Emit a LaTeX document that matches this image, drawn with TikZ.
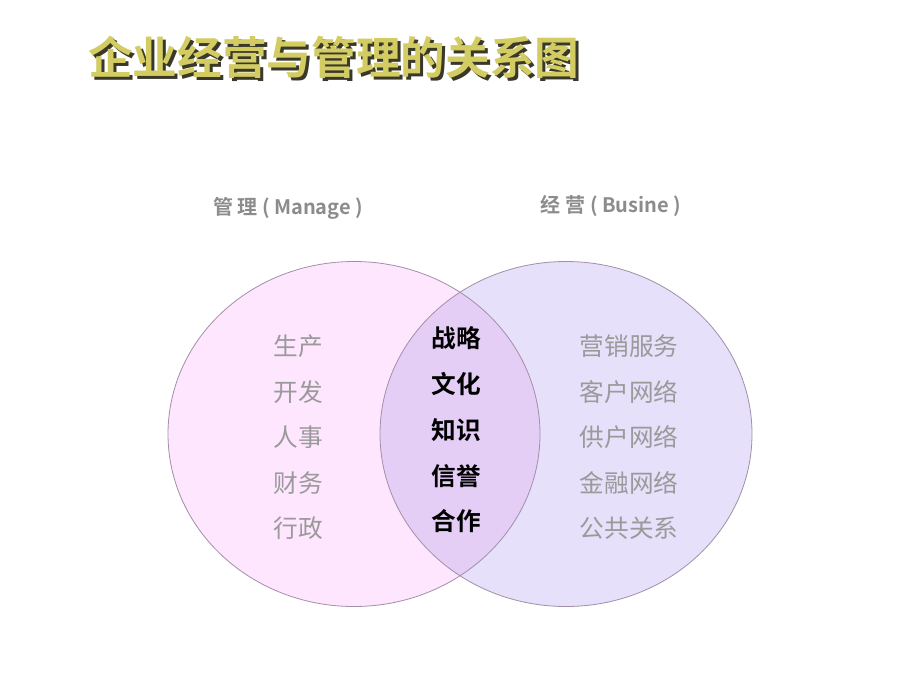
\documentclass[tikz,border=0pt]{standalone}
\usepackage{fontspec}
\newfontfamily\cjk{Noto Sans CJK SC}[BoldFont={Noto Sans CJK SC Bold}]
\definecolor{titlecol}{HTML}{D2CC62}
\definecolor{shadowcol}{HTML}{3A3828}
\definecolor{pinkfill}{HTML}{FFE6FF}
\definecolor{lavfill}{HTML}{E6E0FA}
\definecolor{lensfill}{HTML}{E4CEF6}
\definecolor{edgecol}{HTML}{A28FA8}
\definecolor{graytext}{HTML}{9A9A9A}
\definecolor{labeltext}{HTML}{8C8C8C}
\tikzset{
  sidetext/.style={font=\cjk\fontsize{18.5pt}{20pt}\selectfont, text=graytext, inner sep=0pt},
  midtext/.style={font=\cjk\bfseries\fontsize{18.5pt}{20pt}\selectfont, text=black, inner sep=0pt},
  headlabel/.style={font=\cjk\bfseries\fontsize{15pt}{17pt}\selectfont, text=labeltext, inner sep=0pt},
  titletext/.style={font=\cjk\bfseries\fontsize{33.5pt}{36pt}\selectfont, inner sep=0pt, anchor=west}
}
\begin{document}
\begin{tikzpicture}[x=0.75pt,y=-0.75pt]
\useasboundingbox (0,0) rectangle (920,690);
\fill[white] (0,0) rectangle (920,690);
% title with shadow
\node[titletext, text=shadowcol] (titleshadow) at (91,60) {企业经营与管理的关系图};
\node[titletext, text=titlecol] (title) at (88,57) {企业经营与管理的关系图};
% circles
\fill[pinkfill] (354,434) ellipse [x radius=186, y radius=172.5];
\fill[lavfill] (566,434) ellipse [x radius=186, y radius=172.5];
\begin{scope}
\clip (354,434) ellipse [x radius=186, y radius=172.5];
\fill[lensfill] (566,434) ellipse [x radius=186, y radius=172.5];
\end{scope}
\draw[edgecol, line width=0.6pt] (354,434) ellipse [x radius=186, y radius=172.5];
\draw[edgecol, line width=0.6pt] (566,434) ellipse [x radius=186, y radius=172.5];
% headers
\node[headlabel] (mlabel) at (288,208) {管 理 ( Manage )};
\node[headlabel] (blabel) at (611,206) {经 营 ( Busine )};
% left column
\node[sidetext] (l1) at (298,346) {生产};
\node[sidetext] (l2) at (298,392) {开发};
\node[sidetext] (l3) at (298,437) {人事};
\node[sidetext] (l4) at (298,483) {财务};
\node[sidetext] (l5) at (298,528) {行政};
% middle column
\node[midtext] (m1) at (456,338) {战略};
\node[midtext] (m2) at (456,384) {文化};
\node[midtext] (m3) at (456,430) {知识};
\node[midtext] (m4) at (456,476) {信誉};
\node[midtext] (m5) at (456,521) {合作};
% right column
\node[sidetext] (r1) at (629,346) {营销服务};
\node[sidetext] (r2) at (629,392) {客户网络};
\node[sidetext] (r3) at (629,437) {供户网络};
\node[sidetext] (r4) at (629,483) {金融网络};
\node[sidetext] (r5) at (629,528) {公共关系};
\end{tikzpicture}
\end{document}
